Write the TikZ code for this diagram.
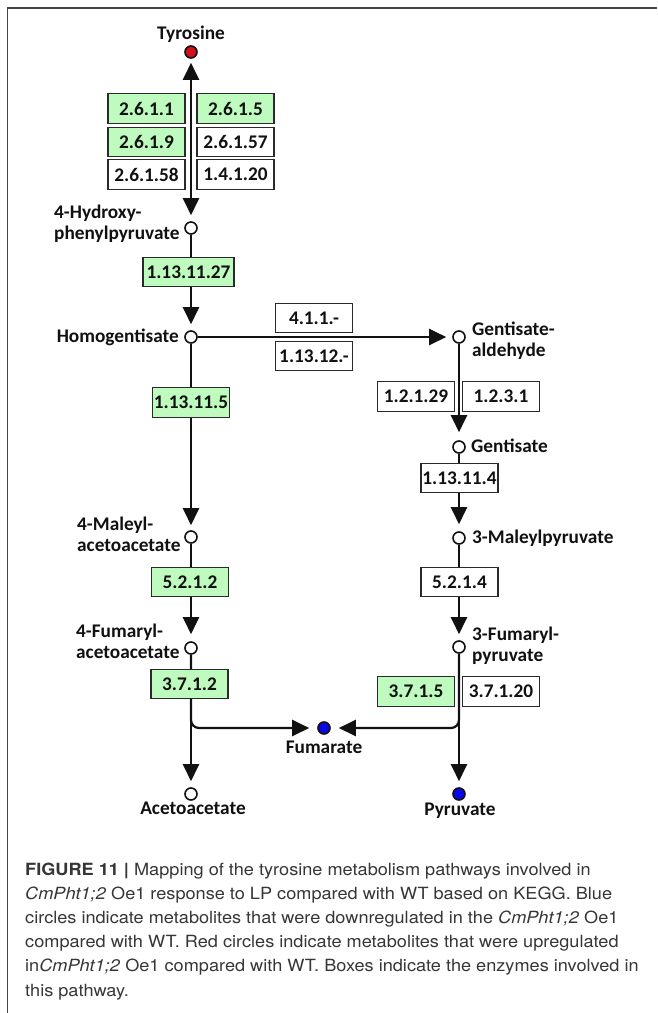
\documentclass[tikz,border=0pt]{standalone}
\usepackage{fontspec}
\setmainfont{Carlito}
\newfontfamily\capfont[FakeStretch=1.08]{TeX Gyre Heros}
\usetikzlibrary{arrows.meta}
\definecolor{kgreen}{HTML}{BFFABF}
\definecolor{ink}{HTML}{111111}
\definecolor{boxline}{HTML}{2A2A2A}
\definecolor{capgray}{HTML}{363636}
\definecolor{framegray}{HTML}{444444}
\definecolor{upred}{HTML}{D0101A}
\definecolor{downblue}{HTML}{0808E8}
\newcommand{\twolines}[2]{\vtop{\baselineskip=21pt\lineskiplimit=-20pt\hbox{#1}\hbox{#2}}}
\begin{document}
\begin{tikzpicture}[x=1pt,y=-1pt,
  >={Triangle[length=17pt,width=16pt]},
  met/.style={circle,draw=ink,line width=1.6pt,fill=white,minimum size=12pt,inner sep=0pt},
  upmet/.style={met,fill=upred},
  downmet/.style={met,fill=downblue},
  lbl/.style={inner sep=0pt,text=ink,font=\fontsize{19.3}{21}\selectfont\bfseries},
  enz/.style={draw=boxline,line width=1.3pt,fill=white,minimum width=77pt,minimum height=29.5pt,inner sep=0pt,text=ink,font=\fontsize{19.3}{21}\selectfont\bfseries},
  genz/.style={enz,fill=kgreen},
  flow/.style={draw=ink,line width=2.2pt,->,shorten >=6pt},
]
\useasboundingbox (0,0) rectangle (657,1013);
\fill[white] (0,0) rectangle (657,1013);
% frame
\draw[line width=1.5pt,framegray] (7.5,1013) -- (7.5,8) -- (657,8);

% metabolites
\node[upmet] (tyr) at (191,52) {};
\node[met] (hpp) at (191,228) {};
\node[met] (hga) at (191,337) {};
\node[met] (gald) at (459,337) {};
\node[met] (gen) at (459,447) {};
\node[met] (mp) at (459,538) {};
\node[met] (fp) at (459,647) {};
\node[met] (mal) at (191,537) {};
\node[met] (faa) at (191,648) {};
\node[met] (aca) at (191,794) {};
\node[downmet] (pyr) at (459,794) {};
\node[downmet] (fum) at (324,728) {};

% labels
\node[lbl,anchor=base] (ltyr) at (191,39) {Tyrosine};
\node[lbl,anchor=base west] (lhpp) at (54,218) {\twolines{4-Hydroxy-}{phenylpyruvate}};
\node[lbl,anchor=base east] (lhga) at (179,342) {Homogentisate};
\node[lbl,anchor=base west] (lgald) at (472,335) {\twolines{Gentisate-}{aldehyde}};
\node[lbl,anchor=base west] (lgen) at (471,452) {Gentisate};
\node[lbl,anchor=base west] (lmp) at (472,543) {3-Maleylpyruvate};
\node[lbl,anchor=base west] (lfp) at (472,640) {\twolines{3-Fumaryl-}{pyruvate}};
\node[lbl,anchor=base west] (lmal) at (77,530) {\twolines{4-Maleyl-}{acetoacetate}};
\node[lbl,anchor=base west] (lfaa) at (76,637) {\twolines{4-Fumaryl-}{acetoacetate}};
\node[lbl,anchor=base] (laca) at (193,814) {Acetoacetate};
\node[lbl,anchor=base] (lpyr) at (460,815) {Pyruvate};
\node[lbl,anchor=base] (lfum) at (324,753) {Fumarate};

% connectors
\draw[flow,<->,shorten <=4pt] (tyr) -- (hpp);
\draw[flow] (hpp) -- (hga);
\draw[flow] (hga) -- (gald);
\draw[flow,shorten >=5pt] (hga) -- (mal);
\draw[flow,shorten >=7pt] (mal) -- (faa);
\draw[flow] (faa) -- (aca);
\draw[flow,shorten >=8pt] (gald) -- (gen);
\draw[flow,shorten >=7pt] (gen) -- (mp);
\draw[flow] (mp) -- (fp);
\draw[flow] (fp) -- (pyr);
\draw[flow,rounded corners=8pt,shorten >=8pt] (faa) |- (fum);
\draw[flow,rounded corners=8pt,shorten >=8pt] (fp) |- (fum);

% enzymes
\node[genz] (e1) at (146.5,108.5) {2.6.1.1};
\node[genz] (e2) at (146.5,142) {2.6.1.9};
\node[enz]  (e3) at (146.5,174.5) {2.6.1.58};
\node[genz] (e4) at (235.5,108.5) {2.6.1.5};
\node[enz]  (e5) at (235.5,142) {2.6.1.57};
\node[enz]  (e6) at (235.5,174.5) {1.4.1.20};
\node[genz,minimum width=91pt] (e7) at (188.5,272) {1.13.11.27};
\node[enz]  (e8) at (314,318) {4.1.1.-};
\node[enz]  (e9) at (314,356) {1.13.12.-};
\node[genz] (e10) at (191,402.5) {1.13.11.5};
\node[enz]  (e11) at (416,396.5) {1.2.1.29};
\node[enz]  (e12) at (501,396.5) {1.2.3.1};
\node[enz]  (e13) at (459.5,478) {1.13.11.4};
\node[enz]  (e14) at (459.5,582) {5.2.1.4};
\node[genz] (e15) at (190,582) {5.2.1.2};
\node[genz] (e16) at (189.5,684) {3.7.1.2};
\node[genz] (e17) at (416,691.5) {3.7.1.5};
\node[enz]  (e18) at (501,691.5) {3.7.1.20};

% caption
\node[anchor=base west,inner sep=0pt,text=capgray,font=\capfont\fontsize{16.8}{24.2}\selectfont] (cap) at (25,875)
{\parbox[t]{630pt}{\raggedright
{\bfseries FIGURE 11 |} Mapping of the tyrosine metabolism pathways involved in\\
\textit{CmPht1;2} Oe1 response to LP compared with WT based on KEGG. Blue\\
circles indicate metabolites that were downregulated in the \textit{CmPht1;2} Oe1\\
compared with WT. Red circles indicate metabolites that were upregulated\\
in\textit{CmPht1;2} Oe1 compared with WT. Boxes indicate the enzymes involved in\\
this pathway.}};
\end{tikzpicture}
\end{document}
